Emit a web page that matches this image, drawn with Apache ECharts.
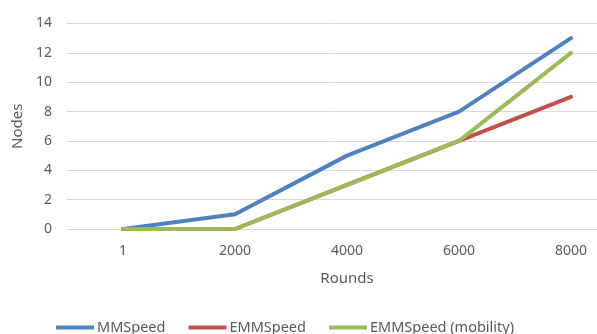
<!DOCTYPE html>
<html>
<head>
<meta charset="utf-8">
<script src="https://cdn.jsdelivr.net/npm/echarts@6/dist/echarts.min.js"></script>
<style>
  html, body { margin: 0; padding: 0; background: #fff; }
  #chart { width: 597px; height: 334px; }
</style>
</head>
<body>
<div id="chart"></div>
<script>
// Rounds on the x axis, node counts per protocol
const rounds = ['1', '2000', '4000', '6000', '8000'];
const mmSpeed = [0, 1, 5, 8, 13];
const emmSpeed = [0, 0, 3, 6, 9];
const emmSpeedMobility = [0, 0, 3, 6, 12];

const FONT = 'Noto Sans';
const TEXT = '#595959';

function lineSeries(name, data, color) {
  return {
    name: name,
    type: 'line',
    data: data,
    symbol: 'none',
    color: color,
    lineStyle: { width: 4, color: color, cap: 'round', join: 'round' }
  };
}

const chart = echarts.init(document.getElementById('chart'));
chart.setOption({
  animation: false,
  textStyle: { fontFamily: FONT },
  // plot area runs past the right edge so the last band is cut off
  grid: {
    left: 67, width: 560, top: 23.5, height: 205.5,
    containLabel: false, outerBoundsMode: 'none'
  },
  legend: {
    left: 51,
    top: 315,
    padding: 5,
    itemGap: 23,
    itemWidth: 38,
    itemHeight: 4,
    icon: 'rect',
    textStyle: { fontFamily: FONT, fontSize: 14.5, color: TEXT, padding: [0, 0, 0, -2] },
    data: ['MMSpeed', 'EMMSpeed', 'EMMSpeed (mobility)']
  },
  xAxis: {
    type: 'category',
    data: rounds,
    boundaryGap: true,
    name: 'Rounds',
    nameLocation: 'middle',
    nameGap: 42,
    nameTextStyle: { fontFamily: FONT, fontSize: 15, color: TEXT },
    axisLine: { lineStyle: { color: '#D9D9D9', width: 1 } },
    axisTick: { show: false },
    axisLabel: { margin: 15, fontFamily: FONT, fontSize: 14, color: TEXT }
  },
  yAxis: {
    type: 'value',
    min: 0,
    max: 14,
    interval: 2,
    name: 'Nodes',
    nameLocation: 'middle',
    nameGap: 40,
    nameTextStyle: { fontFamily: FONT, fontSize: 15, color: TEXT },
    axisLine: { show: false },
    axisTick: { show: false },
    axisLabel: { margin: 15, fontFamily: FONT, fontSize: 14, color: TEXT },
    splitLine: { lineStyle: { color: '#D9D9D9', width: 1 } }
  },
  series: [
    lineSeries('MMSpeed', mmSpeed, '#4F81BD'),
    lineSeries('EMMSpeed', emmSpeed, '#C0504D'),
    lineSeries('EMMSpeed (mobility)', emmSpeedMobility, '#9BBB59')
  ]
});
</script>
</body>
</html>
